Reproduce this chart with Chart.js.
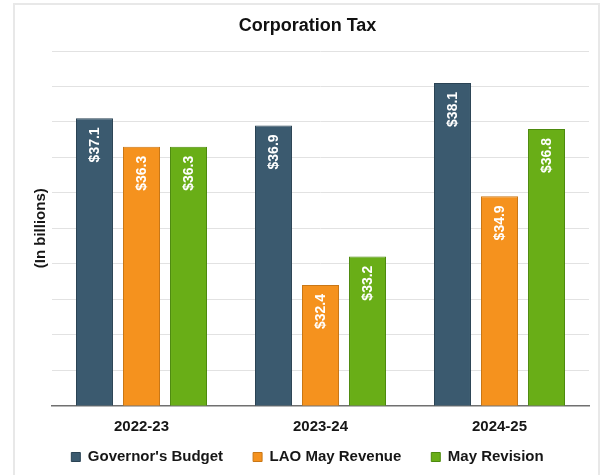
<!DOCTYPE html>
<html>
<head>
<meta charset="utf-8">
<script src="https://cdn.jsdelivr.net/npm/chart.js@4.4.1/dist/chart.umd.min.js"></script>
<style>
  html, body { margin: 0; padding: 0; background: #ffffff; }
  body { width: 606px; height: 475px; position: relative; overflow: hidden; }
  #frame { position: absolute; left: 13px; top: 3px; width: 587px; height: 500px; border: 2px solid #e8e8e8; box-sizing: border-box; }
  #c { position: absolute; left: 0; top: 0; }
</style>
</head>
<body>
<div id="frame"></div>
<canvas id="c" width="606" height="475"></canvas>
<script>
// ---- data ----
const categories = ['2022-23', '2023-24', '2024-25'];
const seriesNames = ["Governor's Budget", 'LAO May Revenue', 'May Revision'];
const governorsBudget = [37.1, 36.9, 38.1];
const laoMayRevenue = [36.3, 32.4, 34.9];
const mayRevision = [36.3, 33.2, 36.8];
const yAxisMin = 29;
const yAxisMax = 39;
const yAxisStep = 1;
const chartTitle = 'Corporation Tax';
const yAxisTitle = '(In billions)';

// ---- styles ----
const FONT = "'Liberation Sans', Arial, Helvetica, sans-serif";
Chart.defaults.font.family = FONT;
Chart.defaults.color = '#161616';

const fills = ['#3b5a6f', '#f5921e', '#69ae17'];
const edges = ['#2a4354', '#c97716', '#4d8a0e'];

const valueLabels = {
  id: 'valueLabels',
  afterDatasetsDraw(chart) {
    const ctx = chart.ctx;
    ctx.save();
    ctx.font = 'bold 14px ' + FONT;
    ctx.fillStyle = '#ffffff';
    ctx.textAlign = 'right';
    ctx.textBaseline = 'middle';
    chart.data.datasets.forEach((ds, di) => {
      const meta = chart.getDatasetMeta(di);
      meta.data.forEach((el, i) => {
        const v = ds.data[i];
        ctx.save();
        ctx.translate(el.x, el.y + 9);
        ctx.rotate(-Math.PI / 2);
        ctx.fillText('$' + v.toFixed(1), 0, 1);
        ctx.restore();
      });
    });
    ctx.restore();
  }
};

const legendShift = {
  id: 'legendShift',
  afterLayout(chart) {
    const lg = chart.legend;
    if (lg) {
      lg.top = 419.5;
      lg.bottom = 475;
      lg.height = lg.bottom - lg.top;
    }
  }
};

new Chart(document.getElementById('c'), {
  type: 'bar',
  data: {
    labels: categories,
    datasets: [governorsBudget, laoMayRevenue, mayRevision].map((d, i) => ({
      label: seriesNames[i],
      data: d,
      backgroundColor: fills[i],
      borderColor: edges[i],
      borderWidth: 1,
      borderSkipped: 'bottom',
      categoryPercentage: 0.788,
      barPercentage: 0.787
    }))
  },
  options: {
    responsive: false,
    animation: false,
    layout: { padding: { left: 26, right: 17, top: 0, bottom: -13.5 } },
    plugins: {
      title: {
        display: true,
        text: chartTitle,
        color: '#111111',
        font: { size: 18, weight: 'bold' },
        padding: { top: 15, bottom: 14.4 }
      },
      legend: {
        position: 'bottom',
        maxHeight: 40,
        labels: {
          boxWidth: 9,
          boxHeight: 9,
          padding: 30,
          color: '#161616',
          font: { size: 15, weight: 'bold' }
        }
      },
      tooltip: { enabled: false }
    },
    scales: {
      x: {
        grid: { display: false, drawTicks: false },
        border: { display: true, color: '#707070', width: 1.5 },
        ticks: { padding: 12.5, color: '#161616', font: { size: 15, weight: 'bold' } }
      },
      y: {
        min: yAxisMin,
        max: yAxisMax,
        ticks: { display: false, stepSize: yAxisStep },
        grid: { color: '#e2e2e2', lineWidth: 1, drawTicks: false },
        border: { display: false },
        title: {
          display: true,
          text: yAxisTitle,
          color: '#161616',
          font: { size: 15, weight: 'bold' },
          padding: { top: 6, bottom: 2 }
        }
      }
    }
  },
  plugins: [valueLabels, legendShift]
});
</script>
</body>
</html>
